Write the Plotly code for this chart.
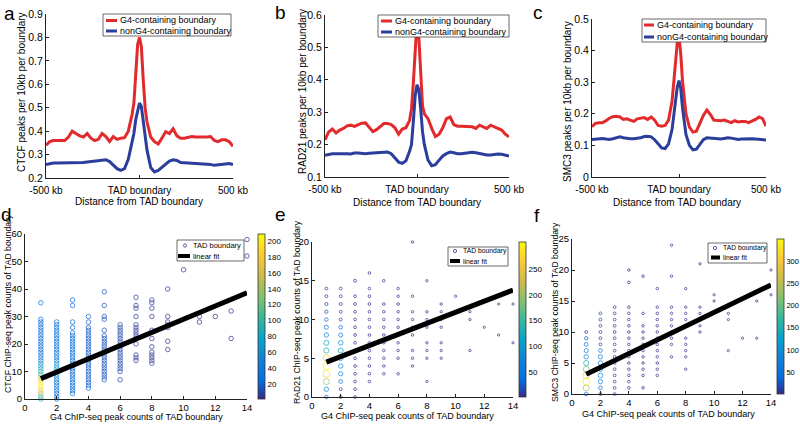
import plotly.graph_objects as go

W, H = 800, 427


def px(x):
    return x / W


def py(y):
    return 1 - y / H


FONT = "Arial, Liberation Sans, Helvetica, sans-serif"
RED = "#e22a2c"
BLUE = "#2b3e9c"

# ---------------- top row: profiles around TAD boundaries (kb) ----------------
X_KB = [-500, -480, -460, -440, -420, -400, -380, -360, -340, -320, -300, -280,
        -260, -240, -220, -200, -180, -160, -140, -120, -100, -80, -60, -40,
        -30, -20, -10, 0, 10, 20, 30,
        40, 60, 80, 100, 120, 140, 160, 180, 200, 220, 240, 260, 280, 300, 320,
        340, 360, 380, 400, 420, 440, 460, 480, 500]
X_TICKS = [-500, 0, 500]
X_TICKTEXT = ["-500 kb", "TAD boundary", "500 kb"]

a_g4 = [0.34, 0.355, 0.36, 0.36, 0.36, 0.36, 0.375, 0.40, 0.39, 0.38, 0.375, 0.39,
        0.37, 0.36, 0.365, 0.39, 0.377, 0.356, 0.377, 0.365, 0.37, 0.372, 0.40, 0.47,
        0.52, 0.65, 0.77, 0.80, 0.76, 0.62, 0.50,
        0.44, 0.375, 0.355, 0.345, 0.37, 0.398, 0.39, 0.41, 0.38, 0.37, 0.37, 0.372,
        0.377, 0.375, 0.374, 0.374, 0.375, 0.377, 0.36, 0.355, 0.363, 0.363, 0.355, 0.335]
a_non = [0.257, 0.262, 0.264, 0.264, 0.264, 0.264, 0.265, 0.266, 0.265, 0.264, 0.266, 0.268,
         0.27, 0.272, 0.275, 0.278, 0.278, 0.27, 0.255, 0.24, 0.233, 0.24, 0.28, 0.35,
         0.39, 0.45, 0.49, 0.52, 0.505, 0.44, 0.37,
         0.32, 0.245, 0.226, 0.232, 0.245, 0.26, 0.272, 0.278, 0.275, 0.266, 0.265, 0.265,
         0.266, 0.265, 0.264, 0.262, 0.26, 0.258, 0.254, 0.255, 0.257, 0.26, 0.262, 0.257]

b_g4 = [0.215, 0.239, 0.248, 0.236, 0.245, 0.25, 0.258, 0.26, 0.256, 0.262, 0.266, 0.267,
        0.252, 0.24, 0.246, 0.255, 0.265, 0.265, 0.262, 0.252, 0.232, 0.248, 0.252, 0.275,
        0.31, 0.39, 0.50, 0.58, 0.53, 0.40, 0.32,
        0.295, 0.28, 0.25, 0.225, 0.232, 0.252, 0.28, 0.285, 0.262, 0.257, 0.257, 0.257,
        0.255, 0.255, 0.25, 0.26, 0.255, 0.25, 0.26, 0.255, 0.25, 0.245, 0.232, 0.224]
b_non = [0.167, 0.17, 0.172, 0.172, 0.172, 0.174, 0.172, 0.171, 0.174, 0.174, 0.172, 0.172,
         0.173, 0.174, 0.175, 0.177, 0.178, 0.177, 0.172, 0.16, 0.146, 0.142, 0.15, 0.18,
         0.20, 0.27, 0.35, 0.385, 0.37, 0.31, 0.24,
         0.20, 0.152, 0.135, 0.138, 0.152, 0.165, 0.172, 0.177, 0.175, 0.172, 0.172, 0.174,
         0.175, 0.176, 0.175, 0.172, 0.17, 0.168, 0.168, 0.17, 0.171, 0.17, 0.168, 0.165]

c_g4 = [0.159, 0.17, 0.172, 0.172, 0.178, 0.186, 0.191, 0.192, 0.19, 0.182, 0.184, 0.18,
        0.176, 0.184, 0.186, 0.188, 0.182, 0.19, 0.18, 0.163, 0.161, 0.163, 0.18, 0.24,
        0.30, 0.37, 0.425, 0.445, 0.39, 0.305, 0.245,
        0.20, 0.158, 0.142, 0.145, 0.17, 0.195, 0.212, 0.198, 0.18, 0.178, 0.178, 0.18,
        0.176, 0.172, 0.178, 0.174, 0.176, 0.176, 0.172, 0.176, 0.182, 0.19, 0.185, 0.161]
c_non = [0.119, 0.12, 0.121, 0.122, 0.12, 0.119, 0.121, 0.124, 0.127, 0.124, 0.122, 0.121,
         0.121, 0.122, 0.124, 0.128, 0.129, 0.127, 0.118, 0.105, 0.092, 0.09, 0.105, 0.15,
         0.19, 0.235, 0.285, 0.305, 0.28, 0.22, 0.175,
         0.135, 0.10, 0.086, 0.088, 0.105, 0.118, 0.124, 0.123, 0.121, 0.12, 0.12, 0.122,
         0.124, 0.123, 0.121, 0.119, 0.12, 0.121, 0.122, 0.121, 0.12, 0.119, 0.118, 0.117]

for arr in (a_g4, a_non, b_g4, b_non, c_g4, c_non):
    assert len(arr) == len(X_KB)

# ---------------- bottom row: ChIP-seq peak counts per TAD boundary ----------------
# y values present in each G4-count column
d_cols = {
    1: [0, 1, 2, 3, 4, 5, 6, 7, 8, 9, 10, 11, 12, 13, 14, 15, 16, 17, 18, 19, 20,
        21, 22, 23, 24, 25, 26, 27, 28, 29, 35],
    2: [0, 1, 2, 3, 4, 5, 6, 7, 8, 9, 10, 11, 12, 13, 14, 15, 16, 17, 18, 19, 20,
        21, 22, 23, 24, 25, 26, 27, 28],
    3: [2, 3, 4, 5, 6, 7, 8, 9, 10, 11, 12, 13, 14, 15, 16, 17, 18, 19, 20, 21, 22,
        23, 24, 26, 28, 34, 36],
    4: [4, 5, 6, 7, 8, 9, 10, 11, 12, 13, 14, 15, 16, 17, 18, 19, 20, 21, 22, 23,
        24, 25, 26, 28, 30],
    5: [7, 8, 9, 10, 11, 12, 13, 14, 15, 16, 17, 18, 19, 20, 21, 22, 23, 25, 29, 30,
        34, 39],
    6: [7, 10, 11, 12, 13, 14, 15, 16, 17, 18, 19, 20, 21, 22, 23, 24, 25, 26, 27],
    7: [14, 15, 16, 20, 22, 23, 24, 25, 26, 27, 30, 33, 34, 37],
    8: [13, 14, 15, 16, 17, 19, 22, 25, 30, 33, 35, 36],
    9: [18, 21, 26, 27, 28, 30, 40],
    10: [47],
    11: [28, 30],
    12: [30],
    13: [22, 32],
    14: [52, 58],
}
d_base = {1: 25, 2: 30, 3: 22, 4: 18, 5: 14, 6: 10, 7: 6, 8: 5, 9: 3,
          10: 1, 11: 2, 12: 1, 13: 1, 14: 1}
d_hot = {1: {0: 80, 1: 110, 2: 140, 3: 170, 4: 190, 5: 205, 6: 200, 7: 185, 8: 150,
             9: 100, 10: 90, 11: 85, 12: 75, 13: 65, 14: 50, 15: 40},
         2: {8: 55, 9: 65, 10: 75, 11: 75, 12: 70, 13: 60, 14: 50}}
d_fit_x = [1, 14]
d_fit_y = [7.4, 38.6]

e_cols = {
    1: [0, 1, 2, 3, 4, 5, 6, 7, 8, 9, 10, 11, 12, 13, 14],
    2: [0, 1, 2, 3, 4, 5, 6, 7, 8, 9, 10, 11, 12, 13, 14],
    3: [0, 1, 2, 3, 4, 5, 6, 7, 8, 9, 10, 11, 12, 13, 15],
    4: [2, 3, 4, 5, 6, 7, 8, 9, 10, 11, 12, 13, 14, 16],
    5: [3, 4, 5, 6, 7, 8, 9, 10, 11, 12, 15],
    6: [3, 5, 6, 7, 8, 9, 10, 11, 12, 13, 14],
    7: [4, 5, 6, 8, 9, 10, 11, 13, 20],
    8: [2, 5, 6, 7, 9, 10, 11, 15],
    9: [5, 6, 7, 9, 10, 11, 12],
    10: [13],
    11: [6, 10, 11],
    12: [9],
    13: [8, 12],
    14: [7, 12],
}
e_base = {1: 10, 2: 10, 3: 8, 4: 6, 5: 5, 6: 4, 7: 3, 8: 2, 9: 2,
          10: 1, 11: 1, 12: 1, 13: 1, 14: 1}
e_hot = {1: {0: 30, 1: 70, 2: 200, 3: 280, 4: 300, 5: 260, 6: 130, 7: 110, 8: 70,
             9: 55, 10: 30, 11: 20, 12: 15},
         2: {2: 35, 3: 60, 4: 75, 5: 90, 6: 110, 7: 90, 8: 50, 9: 30}}
e_fit_x = [1, 14]
e_fit_y = [4.5, 13.8]

f_cols = {
    1: [0, 1, 2, 3, 4, 5, 6, 7, 8, 9, 10],
    2: [0, 1, 2, 3, 4, 5, 6, 7, 8, 9, 10, 11, 12, 13],
    3: [0, 1, 2, 3, 4, 5, 6, 7, 8, 9, 10, 11, 12, 13, 14],
    4: [1, 2, 3, 4, 5, 6, 7, 8, 9, 10, 11, 12, 13, 14, 18, 20],
    5: [1, 3, 4, 5, 6, 7, 8, 9, 10, 11, 13, 19],
    6: [3, 4, 5, 6, 7, 8, 9, 10, 11, 12, 13, 14, 17],
    7: [6, 8, 9, 10, 11, 12, 13, 14, 19, 24],
    8: [4, 6, 7, 8, 9, 11, 12, 13, 14, 17],
    9: [10, 11, 13, 14, 21],
    10: [15, 16],
    11: [7, 12, 13],
    12: [9],
    13: [9, 15],
    14: [16, 20],
}
f_base = {1: 10, 2: 12, 3: 8, 4: 6, 5: 4, 6: 4, 7: 3, 8: 2, 9: 2,
          10: 1, 11: 1, 12: 1, 13: 1, 14: 1}
f_hot = {1: {0: 40, 1: 230, 2: 340, 3: 300, 4: 200, 5: 140, 6: 90, 7: 60, 8: 45, 9: 25},
         2: {1: 40, 2: 80, 3: 90, 4: 85, 5: 80, 6: 70, 7: 40}}
f_fit_x = [1, 14]
f_fit_y = [3.2, 17.6]

PARULA = [
    [0.0, "#352a87"], [0.111, "#056de0"], [0.238, "#1481d6"], [0.365, "#06a4ca"],
    [0.492, "#37b89c"], [0.619, "#82c26f"], [0.746, "#cebb4d"], [0.873, "#fec934"],
    [1.0, "#f9fb0e"],
]


def build(cols, base, hot):
    xs, ys, cs = [], [], []
    for x, ylist in cols.items():
        for y in ylist:
            xs.append(x)
            ys.append(y)
            cs.append(hot.get(x, {}).get(y, base[x]))
    return xs, ys, cs


fig = go.Figure()

# top row traces
for xa, ya, g, n in (("x", "y", a_g4, a_non), ("x2", "y2", b_g4, b_non),
                     ("x3", "y3", c_g4, c_non)):
    fig.add_trace(go.Scatter(x=X_KB, y=g, xaxis=xa, yaxis=ya, mode="lines",
                             line=dict(color=RED, width=3), showlegend=False,
                             name="G4-containing boundary"))
    fig.add_trace(go.Scatter(x=X_KB, y=n, xaxis=xa, yaxis=ya, mode="lines",
                             line=dict(color=BLUE, width=3), showlegend=False,
                             name="nonG4-containing boundary"))

# bottom row traces
bottom = [
    ("x4", "y4", d_cols, d_base, d_hot, d_fit_x, d_fit_y, "coloraxis", 209, False),
    ("x5", "y5", e_cols, e_base, e_hot, e_fit_x, e_fit_y, "coloraxis2", 303, True),
    ("x6", "y6", f_cols, f_base, f_hot, f_fit_x, f_fit_y, "coloraxis3", 350, True),
]
for xa, ya, cols, base, hot, fx, fy, cax, cmax, sized in bottom:
    xs, ys, cs = build(cols, base, hot)
    if sized:
        sizes = [2 + 5 * (c / cmax) ** 0.5 for c in cs]
    else:
        sizes = [4.5] * len(cs)
    fig.add_trace(go.Scatter(x=xs, y=ys, xaxis=xa, yaxis=ya, mode="markers",
                             cliponaxis=False, showlegend=False, name="TAD boundary",
                             marker=dict(symbol="circle-open", size=sizes, color=cs,
                                         coloraxis=cax, line=dict(width=1))))
    fig.add_trace(go.Scatter(x=fx, y=fy, xaxis=xa, yaxis=ya, mode="lines",
                             line=dict(color="black", width=5), showlegend=False,
                             name="linear fit"))


def axis(domain, anchor, size=10, **kw):
    d = dict(domain=domain, anchor=anchor, showline=True, linecolor="#222",
             linewidth=1, ticks="inside", ticklen=3, tickcolor="#222",
             showgrid=False, zeroline=False, fixedrange=True, automargin=False,
             tickfont=dict(family=FONT, size=size, color="black"))
    d.update(kw)
    return d


layout = dict(
    width=W, height=H, margin=dict(l=0, r=0, t=0, b=0, autoexpand=False),
    paper_bgcolor="white", plot_bgcolor="white", showlegend=False,
    font=dict(family=FONT, color="black"),
    xaxis=axis([px(46), px(233)], "y", range=[-500, 500], tickvals=X_TICKS,
               ticktext=X_TICKTEXT, ticklabelstandoff=3),
    yaxis=axis([py(178), py(14)], "x", size=10.5, range=[0.2, 0.9],
               tickvals=[0.2, 0.3, 0.4, 0.5, 0.6, 0.7, 0.8, 0.9]),
    xaxis2=axis([px(325), px(509)], "y2", range=[-500, 500], tickvals=X_TICKS,
                ticktext=X_TICKTEXT, ticklabelstandoff=3),
    yaxis2=axis([py(177), py(15)], "x2", size=10.5, range=[0.1, 0.6],
                tickvals=[0.1, 0.2, 0.3, 0.4, 0.5, 0.6]),
    xaxis3=axis([px(592), px(766)], "y3", range=[-500, 500], tickvals=X_TICKS,
                ticktext=X_TICKTEXT, ticklabelstandoff=3),
    yaxis3=axis([py(177), py(19)], "x3", size=10.5, range=[0, 0.5],
                tickvals=[0, 0.1, 0.2, 0.3, 0.4, 0.5],
                ticktext=["0", "0.1", "0.2", "0.3", "0.4", "0.5"]),
    xaxis4=axis([px(25), px(247)], "y4", size=9.5, range=[0, 14], dtick=2),
    yaxis4=axis([py(399), py(234)], "x4", size=9.5, range=[0, 60], dtick=10),
    xaxis5=axis([px(312), px(513)], "y5", size=9.5, range=[0, 14], dtick=2),
    yaxis5=axis([py(397), py(242)], "x5", size=9.5, range=[0, 20], dtick=5),
    xaxis6=axis([px(572), px(771)], "y6", size=9.5, range=[0, 14], dtick=2),
    yaxis6=axis([py(394), py(239)], "x6", size=9.5, range=[0, 25], dtick=5),
)


def cbar(x_left, y_top, y_bot, tickvals, fsize=8):
    return dict(x=px(x_left), xanchor="left", thickness=7, lenmode="fraction",
                len=(y_bot - y_top) / H, y=py((y_top + y_bot) / 2), yanchor="middle",
                tickvals=tickvals, ticks="", outlinewidth=0.8, outlinecolor="#333",
                xpad=0, ypad=0, tickfont=dict(family=FONT, size=fsize, color="black"))


layout["coloraxis"] = dict(colorscale=PARULA, cmin=1, cmax=209,
                           colorbar=cbar(258, 234, 399, [20, 40, 60, 80, 100, 120, 140, 160, 180, 200]))
layout["coloraxis2"] = dict(colorscale=PARULA, cmin=1, cmax=303,
                            colorbar=cbar(519, 242, 397, [50, 100, 150, 200, 250]))
layout["coloraxis3"] = dict(colorscale=PARULA, cmin=1, cmax=350,
                            colorbar=cbar(777, 239, 394, [50, 100, 150, 200, 250, 300], 7.5))

fig.update_layout(**layout)

ann = []
shapes = []


def text(x, y, s, size, angle=0, xanchor="center"):
    ann.append(dict(x=px(x), y=py(y), xref="paper", yref="paper", text=s, showarrow=False,
                    textangle=angle, xanchor=xanchor, yanchor="middle",
                    font=dict(family=FONT, size=size, color="black")))


# panel letters
for x, y, s in ((9, 13, "a"), (280, 12, "b"), (538, 12, "c"),
                (6, 214, "d"), (280, 214, "e"), (537, 215, "f")):
    text(x, y, s, 19)

# axis titles
for x, y, s in ((139, 201, "Distance from TAD boundary"),
                (417, 202, "Distance from TAD boundary"),
                (677, 202, "Distance from TAD boundary")):
    text(x, y, s, 10)
for x, y, s in ((21, 92, "CTCF peaks per 10kb per boundary"),
                (302, 92, "RAD21 peaks per 10kb per boundary"),
                (567, 102, "SMC3 peaks per 10kb per boundary")):
    text(x, y, s, 10, angle=-90)
for x, y, s in ((136, 417, "G4 ChIP-seq peak counts of TAD boundary"),
                (407, 416, "G4 ChIP-seq peak counts of TAD boundary"),
                (668, 414, "G4 ChIP-seq peak counts of TAD boundary")):
    text(x, y, s, 9)
for x, y, s in ((8, 304, "CTCF ChIP-seq peak counts of TAD boundary"),
                (297, 312, "RAD21 ChIP-seq peak counts of TAD boundary"),
                (555, 312, "SMC3 ChIP-seq peak counts of TAD boundary")):
    text(x, y, s, 8.7, angle=-90)


def box(x0, y0, x1, y1):
    shapes.append(dict(type="rect", xref="paper", yref="paper", x0=px(x0), x1=px(x1),
                       y0=py(y1), y1=py(y0), line=dict(color="#444", width=0.8),
                       fillcolor="white", layer="above"))


def seg(x0, x1, y, color, width):
    shapes.append(dict(type="line", xref="paper", yref="paper", x0=px(x0), x1=px(x1),
                       y0=py(y), y1=py(y), line=dict(color=color, width=width), layer="above"))


# top legends
for (bx0, by0, bx1, by1, r1, r2, sx0, sx1, tx) in (
        (103, 14, 231, 36, 20.5, 31, 106, 117, 118),
        (378, 15, 509, 37, 21, 32, 381, 392, 393),
        (642, 19, 766, 42, 25, 37, 644, 654, 655)):
    box(bx0, by0, bx1, by1)
    seg(sx0, sx1, r1, RED, 3)
    seg(sx0, sx1, r2, BLUE, 3)
    text(tx, r1, "G4-containing boundary", 9, xanchor="left")
    text(tx, r2, "nonG4-containing boundary", 9, xanchor="left")

# scatter legends
for (bx0, by0, bx1, by1, r1, r2, mx, lx0, lx1, tx, fs) in (
        (177, 240, 244, 261, 245.5, 256, 185, 178, 190, 191, 7.5),
        (448, 247, 508, 266, 251, 261, 455, 450, 460, 461, 6.8),
        (708, 243, 767, 263, 248, 257.5, 715, 711, 720, 721, 6.8)):
    box(bx0, by0, bx1, by1)
    shapes.append(dict(type="circle", xref="paper", yref="paper",
                       x0=px(mx - 1.6), x1=px(mx + 1.6), y0=py(r1 + 1.6), y1=py(r1 - 1.6),
                       line=dict(color="#5a5a9a", width=1), layer="above"))
    seg(lx0, lx1, r2, "black", 4)
    text(tx, r1, "TAD boundary", fs, xanchor="left")
    text(tx, r2, "linear fit", fs, xanchor="left")

fig.update_layout(annotations=ann, shapes=shapes)

# remove the browser's default 8px page margin so the 800x427 figure fills the window
fig.write_html("out.html", config={"displayModeBar": False},
               post_script="document.body.style.margin='0px';document.body.style.overflow='hidden';")
